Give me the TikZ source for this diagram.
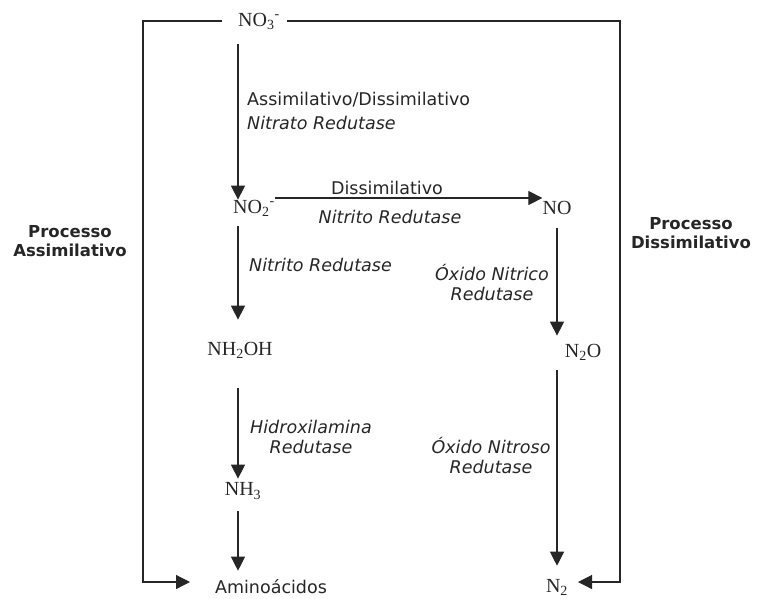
\documentclass[tikz,border=0pt]{standalone}
\usepackage{fontspec}
\setmainfont{Liberation Serif}
\setsansfont{DejaVu Sans}
\usetikzlibrary{arrows.meta}
\begin{document}
\begin{tikzpicture}[x=1pt, y=-1pt,
	chem/.style={font=\fontsize{20}{22}\selectfont, text=black!85},
	lbl/.style={font=\sffamily\fontsize{17.5}{20}\selectfont, text=black!85, align=center},
	enz/.style={lbl, font=\sffamily\itshape\fontsize{17.5}{20}\selectfont},
	proc/.style={lbl, font=\sffamily\bfseries\fontsize{16.5}{19}\selectfont},
	wire/.style={draw=black!85, line width=1.2pt},
	arr/.style={wire, -{Triangle[width=14pt, length=14pt]}}]
	\tikzstyle{every node}+=[inner sep=0pt]
	\useasboundingbox (0,0) rectangle (759,598);
	% compounds
	\node [chem, anchor=west] (no3) at (238,21) {NO\textsubscript{3}\textsuperscript{-}};
	\node [chem, anchor=west] (no2) at (233,208) {NO\textsubscript{2}\textsuperscript{-}};
	\node [chem] (nh2oh) at (240,350) {NH\textsubscript{2}OH};
	\node [chem] (nh3) at (243,491) {NH\textsubscript{3}};
	\node [lbl] (amino) at (271,587) {Aminoácidos};
	\node [chem] (no) at (557,208) {NO};
	\node [chem] (n2o) at (583,352) {N\textsubscript{2}O};
	\node [chem] (n2) at (557,587) {N\textsubscript{2}};
	% enzymes
	\node [lbl, anchor=west] (lassdis) at (247,100) {Assimilativo/Dissimilativo};
	\node [enz, anchor=west] (lnitrato) at (247,123) {Nitrato Redutase};
	\node [lbl] (ldis) at (387,188) {Dissimilativo};
	\node [enz] (lnitritoh) at (390,217) {Nitrito Redutase};
	\node [enz, anchor=west] (lnitritov) at (249,265) {Nitrito Redutase};
	\node [enz] (lnitrico) at (492,283) {Óxido Nitrico\\Redutase};
	\node [enz] (lhidrox) at (311,437) {Hidroxilamina\\Redutase};
	\node [enz] (lnitroso) at (491,455) {Óxido Nitroso\\Redutase};
	% processes
	\node [proc] (passim) at (70,241) {Processo\\Assimilativo};
	\node [proc] (pdissim) at (691,233) {Processo\\Dissimilativo};
	% frame corners
	\coordinate (lftop) at (143,21);
	\coordinate (lfbot) at (143,582);
	\coordinate (aminoin) at (190,582);
	\coordinate (rftop) at (620,21);
	\coordinate (rfbot) at (620,582);
	\coordinate (n2in) at (578,582);
	% assimilative chain
	\draw [arr, shorten <=15pt] (no3.south west) -- (no3.south west |- no2.north);
	\draw [arr, shorten <=10pt, shorten >=22pt] (no3.south west |- no2.south) -- (no3.south west |- nh2oh.north);
	\draw [arr, shorten <=30pt, shorten >=4pt] (no3.south west |- nh2oh.south) -- (no3.south west |- nh3.north);
	\draw [arr, shorten <=12pt, shorten >=9pt] (no3.south west |- nh3.south) -- (no3.south west |- amino.north);
	% dissimilative chain
	\draw [arr] ([yshift=10pt]no2.east) -- ([yshift=10pt]no.west);
	\draw [arr, shorten <=13pt, shorten >=8pt] (no.south) -- (no.south |- n2o.north);
	\draw [arr, shorten <=10pt, shorten >=13pt] (no.south |- n2o.south) -- (no.south |- n2.north);
	% frame
	\draw [arr, shorten <=16pt] (no3.west) -- (lftop) -- (lfbot) -- (aminoin);
	\draw [arr, shorten <=7pt] (no3.east) -- (rftop) -- (rfbot) -- (n2in);
\end{tikzpicture}
\end{document}
